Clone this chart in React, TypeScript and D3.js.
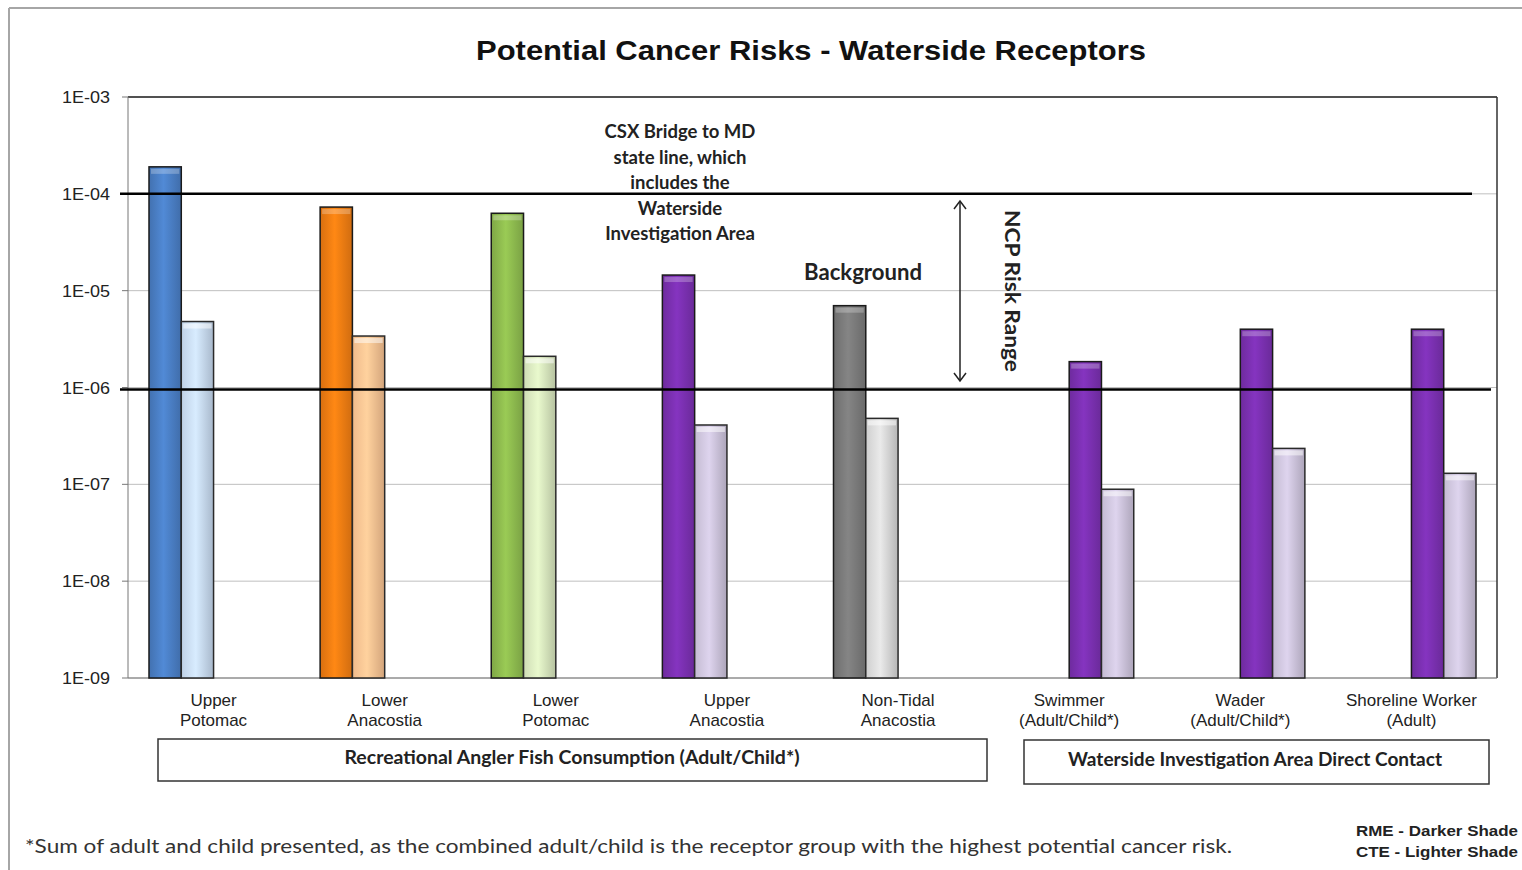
import React from "react";
import * as d3 from "d3";

const categories: string[][] = [
  ["Upper", "Potomac"],
  ["Lower", "Anacostia"],
  ["Lower", "Potomac"],
  ["Upper", "Anacostia"],
  ["Non-Tidal", "Anacostia"],
  ["Swimmer", "(Adult/Child*)"],
  ["Wader", "(Adult/Child*)"],
  ["Shoreline Worker", "(Adult)"],
];
const rmeValues = [1.9e-4, 7.3e-5, 6.3e-5, 1.45e-5, 7e-6, 1.85e-6, 4e-6, 4e-6];
const cteValues = [4.8e-6, 3.4e-6, 2.1e-6, 4.1e-7, 4.8e-7, 8.9e-8, 2.35e-7, 1.3e-7];
// Excel series slot: fish consumption series occupy slots 0/1, direct contact series slots 2/3
const seriesGroup = [0, 0, 0, 0, 0, 1, 1, 1];
const darkColors = ["#4a7ec4", "#f07c12", "#8dba4e", "#7a30b0", "#7a7a7a", "#7a30b0", "#7a30b0", "#7a30b0"];
const lightColors = ["#c9dcf3", "#fcc493", "#d9e8bf", "#cfc5de", "#dadada", "#cfc5de", "#cfc5de", "#cfc5de"];
const yTicks = [1e-3, 1e-4, 1e-5, 1e-6, 1e-7, 1e-8, 1e-9];
const tickLabels = ["1E-03", "1E-04", "1E-05", "1E-06", "1E-07", "1E-08", "1E-09"];
const riskLines = [1e-4, 1e-6];
const groupLabels = ["Recreational Angler Fish Consumption (Adult/Child*)", "Waterside Investigation Area Direct Contact"];
const csxNote = ["CSX Bridge to MD", "state line, which", "includes the", "Waterside", "Investigation Area"];

const W = 1522, H = 870;
const left = 128, right = 1497, top = 97, bottom = 678;

export default function App() {
  const x = d3.scaleBand<number>().domain(d3.range(categories.length)).range([left, right]).padding(0);
  const bw = x.bandwidth();
  const slot = d3.scaleBand<number>().domain([0, 1, 2, 3]).range([21, bw - 21]).padding(0);
  const y = d3.scaleLog().domain([1e-9, 1e-3]).range([bottom, top]);
  const arial = "'Liberation Sans', Arial, sans-serif";
  const calibri = "Lato, 'Open Sans', sans-serif";

  const gradId = (i: number, k: string) => `g${k}${i}`;

  return (
    <svg width={W} height={H} style={{ position: "absolute", left: 0, top: 0, background: "#fff" }}>
      <defs>
        {categories.map((_, i) => (
          <React.Fragment key={i}>
            <linearGradient id={gradId(i, "d")} x1="0" x2="1" y1="0" y2="0">
              <stop offset="0" stopColor={d3.color(darkColors[i])!.darker(0.3).toString()} />
              <stop offset="0.45" stopColor={d3.color(darkColors[i])!.brighter(0.25).toString()} />
              <stop offset="1" stopColor={d3.color(darkColors[i])!.darker(0.4).toString()} />
            </linearGradient>
            <linearGradient id={gradId(i, "l")} x1="0" x2="1" y1="0" y2="0">
              <stop offset="0" stopColor={d3.color(lightColors[i])!.darker(0.15).toString()} />
              <stop offset="0.45" stopColor={d3.color(lightColors[i])!.brighter(0.2).toString()} />
              <stop offset="1" stopColor={d3.color(lightColors[i])!.darker(0.5).toString()} />
            </linearGradient>
          </React.Fragment>
        ))}
      </defs>

      {/* outer frame */}
      <line x1={9} x2={9} y1={8} y2={H} stroke="#a6a6a6" strokeWidth={2} />
      <line x1={9} x2={W} y1={8} y2={8} stroke="#a6a6a6" strokeWidth={2} />

      <text x={811} y={60} textAnchor="middle" fontFamily={arial} fontWeight="bold" fontSize={27} fill="#111"
        textLength={670} lengthAdjust="spacingAndGlyphs">
        Potential Cancer Risks - Waterside Receptors
      </text>

      {/* gridlines */}
      {yTicks.map((t) => (
        <line key={t} x1={left} x2={right} y1={y(t)} y2={y(t)} stroke="#bfbfbf" strokeWidth={1} />
      ))}
      {/* plot frame */}
      <line x1={left} x2={right} y1={top} y2={top} stroke="#222" strokeWidth={1.5} />
      <line x1={right} x2={right} y1={top} y2={bottom} stroke="#333" strokeWidth={1.5} />
      <line x1={left} x2={left} y1={top} y2={bottom} stroke="#777" strokeWidth={1} />
      <line x1={left} x2={right} y1={bottom} y2={bottom} stroke="#777" strokeWidth={1} />

      {/* y ticks */}
      {yTicks.map((t, i) => (
        <g key={t}>
          <line x1={left - 6} x2={left} y1={y(t)} y2={y(t)} stroke="#777" />
          <text x={110} y={y(t) + 6} textAnchor="end" fontFamily={arial} fontSize={17} fill="#222"
            textLength={48} lengthAdjust="spacingAndGlyphs">
            {tickLabels[i]}
          </text>
        </g>
      ))}

      {/* bars */}
      {categories.map((_, i) => {
        const s0 = seriesGroup[i] * 2;
        const xd = x(i)! + slot(s0)!;
        const xl = x(i)! + slot(s0 + 1)!;
        const sw = slot.bandwidth();
        const yd = y(rmeValues[i]);
        const yl = y(cteValues[i]);
        return (
          <g key={i}>
            <rect x={xd} y={yd} width={sw} height={bottom - yd} fill={`url(#${gradId(i, "d")})`} stroke="#1a1a1a" strokeWidth={1.5} />
            <rect x={xd + 2} y={yd + 2} width={sw - 4} height={5} fill="#fff" opacity={0.25} />
            <rect x={xl} y={yl} width={sw} height={bottom - yl} fill={`url(#${gradId(i, "l")})`} stroke="#2a2a2a" strokeWidth={1.5} />
            <rect x={xl + 2} y={yl + 2} width={sw - 4} height={5} fill="#fff" opacity={0.5} />
          </g>
        );
      })}

      {/* risk range lines */}
      <line x1={120} x2={1472} y1={y(riskLines[0])} y2={y(riskLines[0])} stroke="#000" strokeWidth={2.5} />
      <line x1={120} x2={1491} y1={y(riskLines[1]) + 2} y2={y(riskLines[1]) + 2} stroke="#000" strokeWidth={2.5} />

      {/* annotations */}
      {csxNote.map((l, i) => (
        <text key={i} x={680} y={138 + i * 25.5} textAnchor="middle" fontFamily={calibri} fontWeight="bold" fontSize={18.5} fill="#222">
          {l}
        </text>
      ))}
      <text x={863} y={280} textAnchor="middle" fontFamily={calibri} fontWeight="bold" fontSize={22} fill="#222"
        textLength={118} lengthAdjust="spacingAndGlyphs">
        Background
      </text>
      {/* double arrow */}
      <line x1={960} x2={960} y1={202} y2={380} stroke="#222" strokeWidth={1.5} />
      <path d="M954,209 L960,201 L966,209" fill="none" stroke="#222" strokeWidth={1.5} />
      <path d="M954,373 L960,381 L966,373" fill="none" stroke="#222" strokeWidth={1.5} />
      <text transform="translate(1005,291) rotate(90)" textAnchor="middle" fontFamily={calibri} fontWeight="bold" fontSize={20} fill="#222"
        textLength={162} lengthAdjust="spacingAndGlyphs">
        NCP Risk Range
      </text>

      {/* category labels */}
      {categories.map((c, i) => (
        <g key={i}>
          {c.map((l, j) => (
            <text key={j} x={x(i)! + bw / 2} y={706 + j * 20} textAnchor="middle" fontFamily={arial} fontSize={17} fill="#222">
              {l}
            </text>
          ))}
        </g>
      ))}

      {/* group boxes */}
      <rect x={158} y={739} width={829} height={42} fill="#fff" stroke="#333" strokeWidth={1.5} />
      <text x={572} y={764} textAnchor="middle" fontFamily={calibri} fontWeight="bold" fontSize={18} fill="#222"
        textLength={455} lengthAdjust="spacingAndGlyphs">
        {groupLabels[0]}
      </text>
      <rect x={1024} y={740} width={465} height={44} fill="#fff" stroke="#333" strokeWidth={1.5} />
      <text x={1255} y={766} textAnchor="middle" fontFamily={calibri} fontWeight="bold" fontSize={18} fill="#222"
        textLength={374} lengthAdjust="spacingAndGlyphs">
        {groupLabels[1]}
      </text>

      {/* footnote */}
      <text x={25} y={853} fontFamily={calibri} fontSize={18.5} fill="#333" textLength={1207} lengthAdjust="spacingAndGlyphs">
        *Sum of adult and child presented, as the combined adult/child is the receptor group with the highest potential cancer risk.
      </text>
      <text x={1518} y={836} textAnchor="end" fontFamily={arial} fontWeight="bold" fontSize={15} fill="#222"
        textLength={162} lengthAdjust="spacingAndGlyphs">
        RME - Darker Shade
      </text>
      <text x={1518} y={857} textAnchor="end" fontFamily={arial} fontWeight="bold" fontSize={15} fill="#222"
        textLength={162} lengthAdjust="spacingAndGlyphs">
        CTE - Lighter Shade
      </text>
    </svg>
  );
}
